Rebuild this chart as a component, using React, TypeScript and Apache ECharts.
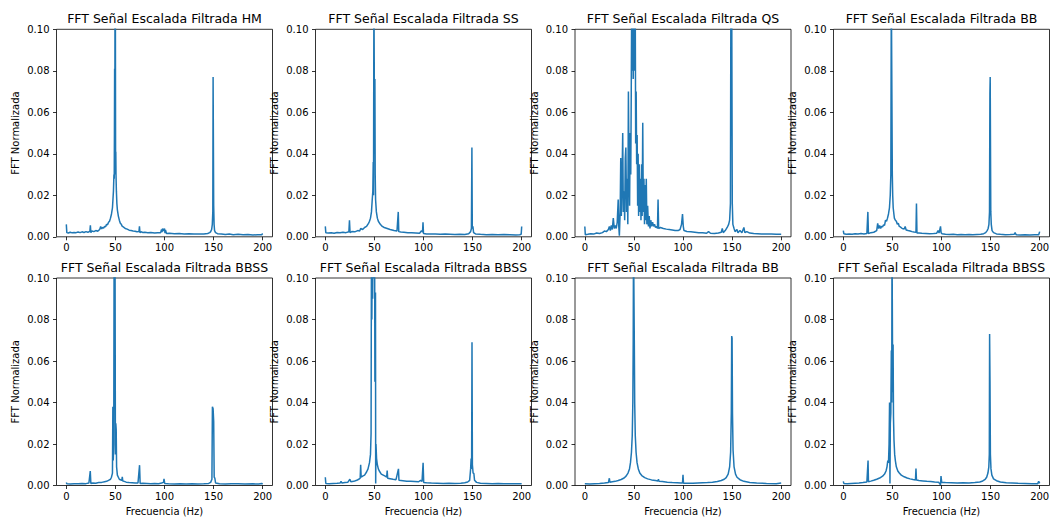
import React, { useEffect, useRef } from "react";
import * as echarts from "echarts";

type Pt = [number, number];

const titles: string[] = [
  "FFT Señal Escalada Filtrada HM",
  "FFT Señal Escalada Filtrada SS",
  "FFT Señal Escalada Filtrada QS",
  "FFT Señal Escalada Filtrada BB",
  "FFT Señal Escalada Filtrada BBSS",
  "FFT Señal Escalada Filtrada BBSS",
  "FFT Señal Escalada Filtrada BB",
  "FFT Señal Escalada Filtrada BBSS",
];

const xTicks: number[] = [0, 50, 100, 150, 200];

const fftHM: Pt[] = [[0,0.006],[0.5,0.002],[2,0.0018],[4,0.0022],[6,0.0019],[8,0.0021],[10,0.002],[12,0.0023],[14,0.002],[16,0.0024],[18,0.0021],[20,0.0025],[22,0.0022],[24,0.0026],[24.5,0.0055],[25,0.002],[26,0.0028],[28,0.0025],[30,0.003],[32,0.0027],[34,0.0035],[35,0.005],[36,0.0038],[37,0.0045],[38,0.0042],[39,0.005],[40,0.0048],[41,0.006],[42,0.0058],[43,0.007],[44,0.0075],[45,0.009],[46,0.011],[47,0.014],[47.5,0.018],[48,0.022],[48.5,0.03],[48.8,0.028],[49,0.05],[49.2,0.081],[49.4,0.04],[49.6,0.12],[49.8,0.12],[50,0.1],[50.2,0.03],[50.4,0.041],[50.6,0.03],[51,0.022],[51.5,0.016],[52,0.013],[53,0.01],[54,0.008],[55,0.0065],[56,0.006],[57,0.005],[58,0.0048],[60,0.004],[62,0.0037],[64,0.0032],[66,0.003],[68,0.0028],[70,0.0027],[72,0.0024],[74,0.0025],[74.5,0.005],[75,0.002],[76,0.0024],[78,0.0021],[80,0.0022],[83,0.002],[86,0.0021],[90,0.0018],[93,0.002],[96,0.0019],[97,0.0035],[97.5,0.0022],[98,0.004],[99,0.0028],[100,0.004],[100.5,0.0018],[101,0.0033],[102,0.0016],[105,0.0017],[110,0.0015],[115,0.0016],[120,0.0014],[125,0.0015],[130,0.0013],[135,0.0014],[140,0.0013],[144,0.0016],[146,0.002],[147,0.0025],[148,0.0035],[148.7,0.006],[149.2,0.012],[149.5,0.077],[149.8,0.077],[150.1,0.015],[150.5,0.006],[151,0.003],[152,0.002],[154,0.0015],[158,0.0013],[162,0.0011],[166,0.0013],[170,0.001],[175,0.0012],[180,0.001],[185,0.0011],[190,0.0009],[195,0.001],[199,0.001],[200,0.0016]];

const fftSS: Pt[] = [[0,0.005],[0.5,0.002],[3,0.0018],[6,0.002],[9,0.0017],[12,0.0021],[15,0.0019],[18,0.0022],[21,0.002],[24,0.0024],[24.6,0.008],[25.2,0.002],[27,0.0025],[30,0.0024],[33,0.003],[35,0.0028],[36,0.004],[38,0.0035],[40,0.0045],[42,0.005],[43,0.0058],[44,0.0065],[45,0.0075],[46,0.009],[47,0.012],[47.8,0.018],[48.4,0.022],[48.8,0.036],[49.1,0.02],[49.5,0.12],[49.9,0.12],[50.2,0.04],[50.5,0.076],[50.8,0.03],[51.2,0.018],[52,0.012],[53,0.009],[54,0.0075],[56,0.006],[58,0.005],[60,0.0045],[63,0.004],[66,0.0035],[70,0.003],[73,0.0028],[74.3,0.012],[74.8,0.0025],[77,0.0023],[80,0.0022],[84,0.002],[88,0.0019],[92,0.0018],[96,0.0017],[98,0.003],[99,0.0022],[99.5,0.007],[100,0.0016],[103,0.0014],[107,0.0013],[112,0.0014],[117,0.0012],[122,0.0013],[127,0.0012],[132,0.0011],[137,0.0012],[142,0.0011],[146,0.0015],[148,0.0025],[148.8,0.004],[149.3,0.043],[149.7,0.004],[150.3,0.005],[151,0.002],[153,0.0014],[158,0.0012],[164,0.001],[170,0.0011],[176,0.001],[182,0.0011],[188,0.001],[194,0.0009],[198,0.001],[199.5,0.0012],[200,0.005]];

const fftQS: Pt[] = [[0,0.005],[0.5,0.001],[3,0.0012],[6,0.0015],[9,0.0013],[12,0.0018],[15,0.0016],[18,0.002],[20,0.0028],[22,0.0025],[24,0.0035],[25,0.005],[26,0.003],[27,0.0055],[28,0.0035],[29,0.009],[30,0.004],[31,0.0055],[32,0.004],[33,0.007],[34,0.018],[34.6,0.005],[35.2,0.0005],[36,0.012],[36.6,0.038],[37.2,0.01],[38,0.03],[38.6,0.05],[39.2,0.012],[40,0.022],[40.6,0.008],[41.2,0.038],[41.8,0.043],[42.5,0.012],[43.2,0.028],[43.8,0.006],[44.4,0.07],[45,0.035],[45.6,0.015],[46.2,0.05],[46.8,0.03],[47.3,0.07],[47.8,0.12],[48.3,0.08],[48.8,0.12],[49.3,0.076],[49.8,0.12],[50.3,0.12],[50.8,0.08],[51.3,0.12],[51.8,0.045],[52.3,0.07],[52.8,0.035],[53.3,0.049],[53.8,0.015],[54.3,0.04],[54.8,0.01],[55.4,0.035],[56,0.012],[56.6,0.028],[57.2,0.008],[57.8,0.035],[58.4,0.01],[59,0.055],[59.6,0.012],[60.2,0.028],[60.8,0.006],[61.4,0.025],[62,0.008],[62.6,0.028],[63.2,0.006],[64,0.015],[64.8,0.005],[65.6,0.01],[66.4,0.004],[67.2,0.008],[68,0.005],[69,0.007],[70,0.005],[71,0.006],[72,0.0045],[73,0.005],[74,0.004],[74.6,0.018],[75.2,0.004],[77,0.0045],[80,0.004],[83,0.0037],[86,0.0035],[89,0.0033],[92,0.003],[95,0.003],[97,0.0035],[98.5,0.006],[99.5,0.011],[100.3,0.005],[101,0.003],[104,0.0026],[108,0.0024],[112,0.0022],[116,0.002],[120,0.0019],[124,0.0017],[126,0.0025],[128,0.0017],[132,0.0016],[136,0.0018],[139,0.0022],[140,0.004],[141,0.002],[143,0.003],[145,0.0045],[146.5,0.006],[147.5,0.008],[148.3,0.016],[148.8,0.12],[149.6,0.12],[150.2,0.016],[150.8,0.006],[152,0.004],[153,0.0025],[155,0.0035],[156,0.002],[158,0.003],[160,0.002],[162,0.0045],[163,0.002],[165,0.0025],[168,0.0018],[172,0.0016],[176,0.0015],[180,0.0014],[185,0.0013],[190,0.0014],[195,0.0012],[200,0.0012]];

const fftBB1: Pt[] = [[0,0.003],[0.5,0.0015],[3,0.0012],[6,0.0014],[9,0.0012],[12,0.0015],[15,0.0013],[18,0.0016],[21,0.0014],[24,0.0016],[25,0.012],[25.6,0.0015],[28,0.002],[31,0.0022],[34,0.003],[35,0.0065],[36,0.004],[37,0.0055],[38,0.004],[39,0.005],[40,0.0048],[41,0.0058],[42,0.0055],[43,0.008],[44,0.0075],[45,0.009],[46,0.011],[47,0.014],[47.8,0.02],[48.4,0.03],[48.9,0.12],[49.5,0.12],[49.9,0.03],[50.3,0.02],[50.8,0.014],[51.5,0.011],[52,0.009],[53,0.008],[54,0.0075],[55,0.006],[56,0.0065],[57,0.005],[58,0.0048],[60,0.004],[62,0.0038],[63,0.005],[64,0.0033],[66,0.003],[68,0.0028],[70,0.0025],[72,0.0023],[74,0.0022],[74.5,0.016],[75,0.0018],[77,0.0018],[80,0.0017],[84,0.0016],[88,0.0015],[92,0.0016],[95,0.0017],[96.5,0.003],[97.5,0.0018],[99,0.005],[99.6,0.002],[100.5,0.0015],[104,0.0012],[108,0.0011],[112,0.0012],[116,0.001],[120,0.0011],[124,0.001],[128,0.0011],[132,0.001],[136,0.0011],[140,0.0012],[143,0.0015],[145,0.002],[146.5,0.003],[147.5,0.004],[148.3,0.006],[148.9,0.012],[149.3,0.069],[149.6,0.077],[149.9,0.077],[150.2,0.012],[150.7,0.006],[151.5,0.003],[153,0.002],[156,0.0014],[160,0.0012],[165,0.001],[170,0.0011],[174,0.0012],[175,0.002],[176,0.001],[180,0.0009],[185,0.001],[190,0.0009],[195,0.001],[199,0.001],[200,0.0025]];

const fftBBSS1: Pt[] = [[0,0.0015],[0.5,0.0008],[4,0.0007],[8,0.0009],[12,0.0008],[16,0.001],[20,0.0009],[23,0.0012],[24.4,0.007],[25,0.001],[27,0.0012],[30,0.0011],[33,0.0014],[36,0.0015],[39,0.0018],[41,0.002],[43,0.0025],[45,0.003],[46,0.004],[47,0.006],[47.4,0.038],[47.8,0.012],[48.3,0.02],[48.7,0.12],[49.6,0.12],[50,0.015],[50.4,0.03],[50.8,0.027],[51.2,0.009],[52,0.005],[53,0.004],[54,0.003],[55,0.0028],[56.5,0.0025],[57,0.0042],[57.5,0.0022],[59,0.002],[61,0.0016],[64,0.0014],[67,0.0013],[70,0.0012],[73,0.0012],[74.6,0.0098],[75.2,0.001],[78,0.0011],[82,0.001],[86,0.0009],[90,0.001],[94,0.0008],[97,0.0012],[99,0.0015],[99.5,0.0032],[100.2,0.001],[104,0.0008],[110,0.0007],[116,0.0008],[122,0.0007],[128,0.0008],[134,0.0007],[140,0.0008],[145,0.001],[147,0.0015],[148.3,0.003],[148.8,0.038],[149.5,0.037],[150.1,0.031],[150.6,0.004],[151.3,0.0035],[152,0.0012],[156,0.0008],[162,0.0007],[168,0.0008],[175,0.0009],[182,0.0007],[190,0.0008],[196,0.0007],[199,0.001],[200,0.0007]];

const fftBBSS2: Pt[] = [[0,0.004],[0.5,0.001],[4,0.0009],[8,0.001],[12,0.0011],[15,0.0012],[16,0.002],[17,0.0012],[20,0.0014],[23,0.0016],[25,0.003],[26,0.0018],[29,0.002],[32,0.0025],[34,0.003],[35.5,0.0035],[36,0.01],[36.5,0.004],[38,0.0045],[40,0.005],[42,0.0065],[43.5,0.008],[45,0.011],[46,0.015],[46.6,0.025],[47,0.12],[47.4,0.08],[47.8,0.12],[48.2,0.09],[48.6,0.12],[49,0.1],[49.4,0.12],[49.8,0.1],[50.2,0.12],[50.5,0.05],[50.8,0.092],[51.1,0.093],[51.3,0.001],[51.6,0.02],[52.2,0.013],[53,0.01],[54,0.008],[55,0.007],[57,0.0055],[59,0.005],[61,0.0045],[62.5,0.004],[63,0.0072],[63.5,0.0035],[66,0.0033],[69,0.003],[72,0.0028],[74.5,0.008],[75,0.0025],[79,0.0023],[83,0.0021],[87,0.002],[91,0.0019],[95,0.0018],[97,0.0025],[98.5,0.002],[99.6,0.011],[100.2,0.0015],[103,0.0013],[108,0.0012],[114,0.0011],[120,0.001],[126,0.0011],[132,0.001],[138,0.0011],[142,0.0013],[145,0.0017],[147,0.0025],[148,0.008],[148.5,0.013],[149,0.008],[149.4,0.069],[149.8,0.01],[150.5,0.006],[151.3,0.0058],[152,0.0025],[154,0.0015],[158,0.0011],[164,0.001],[170,0.0009],[176,0.001],[182,0.0009],[188,0.0008],[194,0.0009],[200,0.0008]];

const fftBB2: Pt[] = [[0,0.0008],[5,0.0007],[10,0.0009],[15,0.001],[20,0.0012],[24,0.0014],[25,0.0035],[25.5,0.0016],[28,0.0018],[31,0.002],[34,0.0024],[37,0.0029],[40,0.0036],[42,0.0045],[44,0.006],[45.5,0.008],[46.5,0.011],[47.5,0.016],[48.3,0.024],[48.9,0.04],[49.3,0.07],[49.6,0.12],[50.1,0.12],[50.4,0.07],[50.8,0.04],[51.4,0.024],[52.2,0.016],[53.2,0.011],[54.5,0.008],[56,0.006],[58,0.0048],[61,0.0038],[64,0.0032],[68,0.0027],[72,0.0024],[74.5,0.0022],[75,0.003],[75.5,0.0021],[79,0.0019],[84,0.0016],[89,0.0014],[94,0.0013],[98,0.0012],[99.5,0.0012],[100,0.0052],[100.5,0.0011],[105,0.0011],[110,0.0011],[115,0.0012],[120,0.0013],[125,0.0014],[130,0.0016],[135,0.0019],[139,0.0024],[142,0.003],[144,0.0038],[146,0.0055],[147.5,0.009],[148.5,0.016],[149.2,0.035],[149.6,0.072],[150,0.071],[150.4,0.035],[151,0.017],[152,0.009],[153.5,0.0055],[155,0.004],[158,0.0028],[162,0.002],[168,0.0015],[175,0.0012],[185,0.001],[195,0.0009],[200,0.0012]];

const fftBBSS3: Pt[] = [[0,0.002],[0.5,0.001],[4,0.0009],[8,0.001],[12,0.0011],[16,0.0012],[20,0.0014],[24,0.0017],[25.2,0.012],[25.6,0.0018],[28,0.0021],[31,0.0025],[34,0.003],[37,0.0036],[40,0.0045],[42,0.0055],[43.5,0.007],[44.5,0.009],[45.3,0.012],[46,0.011],[46.6,0.02],[47.1,0.04],[47.5,0.001],[47.9,0.03],[48.4,0.035],[48.9,0.065],[49.3,0.04],[49.6,0.12],[50,0.12],[50.3,0.045],[50.7,0.068],[51.1,0.033],[51.6,0.022],[52.3,0.015],[53,0.012],[54,0.009],[55.5,0.007],[57,0.006],[59,0.005],[62,0.0042],[65,0.0036],[68,0.0032],[71,0.0029],[73.5,0.0027],[74,0.0082],[74.5,0.0026],[77,0.0024],[81,0.0022],[85,0.002],[89,0.0019],[93,0.0017],[97,0.0016],[99,0.0003],[99.5,0.0045],[100.2,0.0015],[104,0.0014],[110,0.0013],[116,0.0012],[122,0.0013],[128,0.0012],[134,0.0014],[139,0.0017],[142,0.0022],[144.5,0.003],[146,0.004],[147.3,0.006],[148.2,0.009],[148.7,0.015],[149,0.073],[149.4,0.05],[149.8,0.015],[150.4,0.008],[151.3,0.005],[153,0.0032],[156,0.0023],[160,0.0017],[166,0.0013],[172,0.0012],[178,0.0011],[185,0.001],[192,0.0009],[198,0.0009],[199,0.002],[200,0.001]];

const panels: Pt[][] = [fftHM, fftSS, fftQS, fftBB1, fftBBSS1, fftBBSS2, fftBB2, fftBBSS3];

const FONT = "DejaVu Sans";
const LEFTS = [56.5, 315.5, 575, 833.5];
const TOPS = [29.3, 278];
const GW = 216;
const GH = 207.5;

export default function App() {
  const ref = useRef<HTMLDivElement>(null);
  useEffect(() => {
    if (!ref.current) return;
    const chart = echarts.init(ref.current, undefined, { renderer: "svg" });
    const grid: any[] = [];
    const xAxis: any[] = [];
    const yAxis: any[] = [];
    const series: any[] = [];
    const graphic: any[] = [];
    panels.forEach((data, i) => {
      const row = Math.floor(i / 4);
      const col = i % 4;
      const left = LEFTS[col];
      const top = TOPS[row];
      grid.push({
        left,
        top,
        width: GW,
        height: GH,
        show: true,
        borderColor: "#000",
        borderWidth: 0.8,
        backgroundColor: "transparent",
      });
      xAxis.push({
        type: "value",
        gridIndex: i,
        min: -10,
        max: 210,
        axisLine: { show: false, onZero: false },
        splitLine: { show: false },
        axisTick: {
          show: true,
          customValues: xTicks,
          length: 3.5,
          lineStyle: { color: "#000", width: 0.8 },
        },
        axisLabel: {
          customValues: xTicks,
          fontSize: 10,
          fontFamily: FONT,
          color: "#000",
          margin: 6,
        },
        name: row === 1 ? "Frecuencia (Hz)" : "",
        nameLocation: "middle",
        nameGap: 21,
        nameTextStyle: { fontSize: 10, fontFamily: FONT, color: "#000" },
      });
      yAxis.push({
        type: "value",
        gridIndex: i,
        min: 0,
        max: 0.1,
        interval: 0.02,
        axisLine: { show: false, onZero: false },
        splitLine: { show: false },
        axisTick: {
          show: true,
          length: 3.5,
          lineStyle: { color: "#000", width: 0.8 },
        },
        axisLabel: {
          formatter: (v: number) => v.toFixed(2),
          fontSize: 10,
          fontFamily: FONT,
          color: "#000",
          margin: 7,
        },
        name: "FFT Normalizada",
        nameLocation: "middle",
        nameGap: 36,
        nameTextStyle: { fontSize: 10, fontFamily: FONT, color: "#000" },
      });
      series.push({
        type: "line",
        xAxisIndex: i,
        yAxisIndex: i,
        data,
        showSymbol: false,
        symbol: "none",
        clip: true,
        lineStyle: { color: "#1f77b4", width: 1.5 },
        itemStyle: { color: "#1f77b4" },
      });
      graphic.push({
        type: "text",
        x: left + GW / 2,
        y: row === 0 ? 18 : 267,
        style: {
          text: titles[i],
          font: `12.5px "${FONT}"`,
          fill: "#000",
          textAlign: "center",
          textVerticalAlign: "middle",
        },
      });
    });
    chart.setOption({
      animation: false,
      backgroundColor: "#fff",
      grid,
      xAxis,
      yAxis,
      series,
      graphic,
    });
    return () => chart.dispose();
  }, []);
  return (
    <div
      ref={ref}
      style={{ position: "fixed", left: 0, top: 0, width: 1054, height: 520 }}
    />
  );
}
